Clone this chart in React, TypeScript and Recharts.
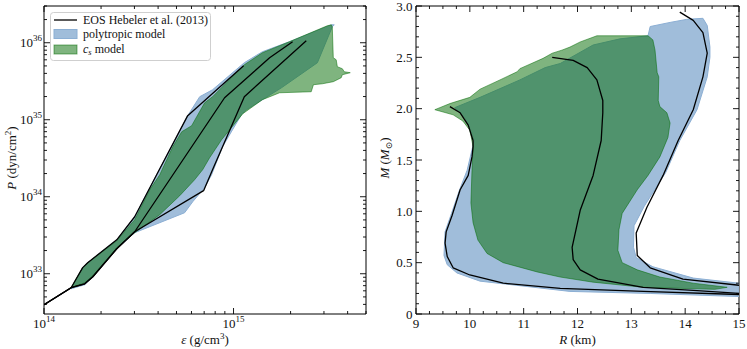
import React from 'react';
import { ComposedChart, Scatter, XAxis, YAxis, ReferenceArea } from 'recharts';

const FONT = '"Liberation Serif", "DejaVu Serif", serif';
const INK = '#111';
const BLUE = '#a0bdda';
const BLUE_EDGE = '#8cafd4';
const GREEN = '#006900';

// ---- left panel: P(ε), values as [ε (g/cm³), P (dyn/cm²)] ----
const hebelerSoftEpsP = [
  [1.0e14, 3.96e32], [1.39e14, 6.58e32], [1.64e14, 7.41e32], [1.81e14, 9.14e32],
  [2.42e14, 2.11e33], [3.01e14, 3.51e33], [6.95e14, 1.2e34], [7.75e14, 2.24e34],
  [1.14e15, 1.99e35], [2.42e15, 1.06e36],
];
const hebelerInterEpsP = [
  [1.0e14, 3.96e32], [1.39e14, 6.58e32], [1.64e14, 7.41e32], [1.81e14, 9.14e32],
  [2.42e14, 2.11e33], [3.01e14, 3.51e33], [8.97e14, 1.93e35], [1.55e15, 6.39e35],
  [2.05e15, 1.03e36],
];
const hebelerStiffEpsP = [
  [1.0e14, 3.96e32], [1.39e14, 6.58e32], [1.6e14, 1.2e33], [1.7e14, 1.39e33],
  [2.42e14, 2.76e33], [3.01e14, 5.5e33], [3.93e14, 1.93e34], [5.73e14, 1.13e35],
  [1.13e15, 5.03e35],
];
const polytropicEpsP = [
  [1.39e14, 6.38e32], [1.6e14, 1.2e33], [1.7e14, 1.39e33], [2.42e14, 2.76e33],
  [3.01e14, 5.5e33], [3.93e14, 1.93e34], [5.73e14, 1.13e35], [6.63e14, 1.99e35],
  [7.75e14, 2.45e35], [1.14e15, 5.5e35], [1.42e15, 7.64e35], [1.97e15, 1.03e36],
  [3.28e15, 1.71e36], [3.4e15, 1.71e36], [3.32e15, 1.61e36], [2.77e15, 5.5e35],
  [1.79e15, 2.6e35], [1.17e15, 1.35e35], [1.1e15, 1.16e35], [8.75e14, 4.46e34],
  [7.66e14, 1.93e34], [7.04e14, 1.31e34], [6.09e14, 8.61e33], [5.52e14, 6.2e33],
  [3.01e14, 3.41e33], [2.42e14, 2.11e33], [1.81e14, 9.14e32], [1.64e14, 7.2e32],
];
const csModelEpsP = [
  [1.39e14, 6.58e32], [1.6e14, 1.2e33], [1.7e14, 1.39e33], [2.42e14, 2.68e33],
  [3.01e14, 5.03e33], [3.61e14, 1.23e34], [4.08e14, 1.93e34], [4.78e14, 4.46e34],
  [5.33e14, 6.99e34], [6.01e14, 8.36e34], [7.04e14, 1.66e35], [7.75e14, 1.99e35],
  [1.14e15, 5.18e35], [1.42e15, 7.42e35], [1.97e15, 1.03e36], [3.12e15, 1.66e36],
  [3.28e15, 1.71e36], [3.32e15, 1.61e36], [3.36e15, 6.39e35], [3.48e15, 6.01e35],
  [3.53e15, 4.88e35], [3.75e15, 4.6e35], [3.84e15, 4.2e35], [4.13e15, 4.08e35],
  [3.75e15, 3.84e35], [3.7e15, 3.51e35], [3.36e15, 3.12e35], [2.94e15, 2.93e35],
  [2.64e15, 2.85e35], [2.57e15, 2.31e35], [1.75e15, 2.24e35], [1.42e15, 1.82e35],
  [1.12e15, 1.2e35], [8.65e14, 5.5e34], [7.48e14, 3.21e34], [6.87e14, 2.24e34],
  [6.23e14, 1.66e34], [5.2e14, 1.03e34], [4.08e14, 5.84e33], [3.01e14, 3.41e33],
  [2.42e14, 2.18e33], [1.81e14, 9.42e32], [1.64e14, 7.64e32],
];

// ---- right panel: M(R), values as [R (km), M (M_sun)] ----
const hebelerSoftRM = [
  [9.63, 2.02], [9.82, 1.96], [9.97, 1.84], [10.06, 1.69], [10.06, 1.63], [10.04, 1.53],
  [9.97, 1.35], [9.82, 1.21], [9.67, 0.96], [9.56, 0.8], [9.54, 0.69], [9.58, 0.56],
  [9.69, 0.45], [10.0, 0.38], [10.62, 0.3], [11.68, 0.25], [13.22, 0.22], [15.0, 0.19],
];
const hebelerInterRM = [
  [11.53, 2.5], [11.92, 2.47], [12.18, 2.4], [12.36, 2.28], [12.47, 2.08], [12.47, 1.96],
  [12.44, 1.69], [12.29, 1.35], [12.05, 1.01], [11.9, 0.65], [11.92, 0.53], [12.05, 0.43],
  [12.38, 0.34], [13.22, 0.26], [14.15, 0.23], [15.0, 0.2],
];
const hebelerStiffRM = [
  [13.9, 2.94], [14.15, 2.86], [14.33, 2.74], [14.41, 2.54], [14.33, 2.31], [14.15, 1.99],
  [13.87, 1.69], [13.59, 1.35], [13.29, 1.04], [13.09, 0.79], [13.11, 0.57], [13.35, 0.45],
  [13.96, 0.34], [15.0, 0.28],
];
const polytropicRM = [
  [9.72, 2.01], [10.19, 2.11], [10.93, 2.28], [11.4, 2.4], [11.68, 2.44], [12.29, 2.62],
  [12.79, 2.68], [13.31, 2.71], [13.35, 2.8], [13.72, 2.84], [14.03, 2.87], [14.33, 2.88],
  [14.41, 2.81], [14.46, 2.6], [14.46, 2.5], [14.41, 2.31], [14.22, 1.99], [13.9, 1.69],
  [13.64, 1.38], [13.24, 1.05], [13.05, 0.86], [13.04, 0.65], [13.09, 0.55], [13.4, 0.46],
  [14.15, 0.35], [15.0, 0.3], [15.0, 0.17], [13.35, 0.2], [11.86, 0.22], [10.19, 0.32],
  [9.76, 0.4], [9.58, 0.48], [9.52, 0.57], [9.53, 0.69], [9.54, 0.8], [9.66, 0.98],
  [9.81, 1.21], [9.95, 1.4], [10.04, 1.6], [10.08, 1.69], [10.02, 1.79], [9.91, 1.91],
];
const csModelRM = [
  [9.35, 1.99], [9.63, 2.05], [10.0, 2.11], [10.19, 2.19], [10.56, 2.28], [10.88, 2.36],
  [10.93, 2.39], [11.36, 2.49], [11.53, 2.54], [11.71, 2.57], [11.86, 2.6], [12.05, 2.65],
  [12.36, 2.71], [12.79, 2.71], [13.31, 2.71], [13.4, 2.67], [13.44, 2.57], [13.48, 2.35],
  [13.51, 2.31], [13.5, 2.08], [13.53, 2.02], [13.66, 1.96], [13.72, 1.86], [13.68, 1.72],
  [13.53, 1.53], [13.31, 1.35], [13.11, 1.21], [12.83, 0.98], [12.77, 0.82], [12.75, 0.62],
  [12.83, 0.5], [13.11, 0.43], [13.53, 0.36], [14.15, 0.3], [14.78, 0.26], [14.55, 0.24],
  [13.22, 0.26], [12.29, 0.31], [11.68, 0.36], [11.25, 0.41], [10.62, 0.5], [10.32, 0.59],
  [10.15, 0.72], [10.06, 0.89], [10.02, 1.08], [10.04, 1.4], [10.06, 1.63], [10.0, 1.79],
  [9.87, 1.88], [9.69, 1.94],
];

// ---- ticks ----
const epsTicks = [1, 2, 3, 4, 5, 6, 7, 8, 9].map((m) => m * 1e14).concat([1, 2, 3, 4, 5].map((m) => m * 1e15));
const pTicks = [4, 5, 6, 7, 8, 9].map((m) => m * 1e32)
  .concat([1, 2, 3, 4, 5, 6, 7, 8, 9].map((m) => m * 1e33))
  .concat([1, 2, 3, 4, 5, 6, 7, 8, 9].map((m) => m * 1e34))
  .concat([1, 2, 3, 4, 5, 6, 7, 8, 9].map((m) => m * 1e35))
  .concat([1, 2, 3].map((m) => m * 1e36));
const rTicks = Array.from({ length: 25 }, (_, i) => 9 + i * 0.25);
const mTicks = Array.from({ length: 31 }, (_, i) => i / 10);
const mLabels: Record<string, string> = { '0': '0', '0.5': '0.5', '1': '1.0', '1.5': '1.5', '2': '2.0', '2.5': '2.5', '3': '3.0' };

const pts = (a: number[][]) => a.map(([x, y]) => ({ x, y }));
const isPow10 = (v: number) => Math.abs(Math.log10(v) - Math.round(Math.log10(v))) < 1e-6;
const isHalf = (v: number) => Math.abs(v * 2 - Math.round(v * 2)) < 1e-6;
const isInt = (v: number) => Math.abs(v - Math.round(v)) < 1e-6;
const powLabel = (v: number) => (
  <>
    <tspan>10</tspan>
    <tspan dy={-6} fontSize={9}>{Math.round(Math.log10(v))}</tspan>
  </>
);

const NoDot = () => <g />;

const fillLine = (fill: string, fillOpacity: number, stroke: string, strokeOpacity: number) => (p: any) => (
  <polygon
    points={p.points.map((q: any) => `${q.x},${q.y}`).join(' ')}
    fill={fill}
    fillOpacity={fillOpacity}
    stroke={stroke}
    strokeOpacity={strokeOpacity}
    strokeWidth={1}
    strokeLinejoin="round"
  />
);
const blackLine = (p: any) => (
  <polyline
    points={p.points.map((q: any) => `${q.x},${q.y}`).join(' ')}
    fill="none"
    stroke="#000"
    strokeWidth={1.3}
    strokeLinejoin="round"
  />
);

// inward ticks on both sides, labels only on major ticks
const bottomTick = (major: (v: number) => boolean, text: (v: number) => React.ReactNode, span: number) => (p: any) => {
  const { x, y } = p;
  const v = p.payload.value;
  const m = major(v);
  const len = m ? 6 : 3;
  return (
    <g>
      <line x1={x} x2={x} y1={y} y2={y - len} stroke="#000" strokeWidth={0.9} />
      <line x1={x} x2={x} y1={y - span} y2={y - span + len} stroke="#000" strokeWidth={0.9} />
      {m && (
        <text x={x} y={y + 14} textAnchor="middle" fontFamily={FONT} fontSize={13} fill={INK}>
          {text(v)}
        </text>
      )}
    </g>
  );
};
const leftTick = (major: (v: number) => boolean, text: (v: number) => React.ReactNode, span: number, gap: number) => (p: any) => {
  const { x, y } = p;
  const v = p.payload.value;
  const m = major(v);
  const len = m ? 6 : 3;
  return (
    <g>
      <line x1={x} x2={x + len} y1={y} y2={y} stroke="#000" strokeWidth={0.9} />
      <line x1={x + span} x2={x + span - len} y1={y} y2={y} stroke="#000" strokeWidth={0.9} />
      {m && (
        <text x={x - gap} y={y + 4.5} textAnchor="end" fontFamily={FONT} fontSize={13} fill={INK}>
          {text(v)}
        </text>
      )}
    </g>
  );
};

const xTitle = (content: React.ReactNode) => (p: any) => {
  const vb = p.viewBox;
  return (
    <text x={vb.x + vb.width / 2} y={vb.y + 30} textAnchor="middle" fontFamily={FONT} fontSize={13} fill={INK}>
      {content}
    </text>
  );
};
const yTitle = (content: React.ReactNode, px: number) => (p: any) => {
  const vb = p.viewBox;
  const cx = vb.x + px;
  const cy = vb.y + vb.height / 2 - 2;
  return (
    <text x={cx} y={cy} transform={`rotate(-90 ${cx} ${cy})`} textAnchor="middle" fontFamily={FONT} fontSize={13} fill={INK}>
      {content}
    </text>
  );
};

const Legend = () => (
  <svg width={372} height={80} style={{ position: 'absolute', left: 0, top: 0, pointerEvents: 'none' }}>
    <rect x={50.5} y={12.5} width={160} height={48} rx={3} fill="#fff" fillOpacity={0.8} stroke="#cfcfcf" />
    <line x1={54} x2={77} y1={20} y2={20} stroke="#000" strokeWidth={1.3} />
    <text x={83} y={24} fontFamily={FONT} fontSize={12} fill={INK}>EOS Hebeler et al. (2013)</text>
    <rect x={54} y={29.5} width={23} height={9} fill={BLUE} stroke={BLUE_EDGE} />
    <text x={83} y={38} fontFamily={FONT} fontSize={12} fill={INK}>polytropic model</text>
    <rect x={54} y={45} width={23} height={9} fill={GREEN} fillOpacity={0.5} stroke={GREEN} strokeOpacity={0.5} />
    <text x={83} y={53} fontFamily={FONT} fontSize={12} fill={INK}>
      <tspan fontStyle="italic">c</tspan>
      <tspan dy={2} fontSize={8.5} fontStyle="italic">s</tspan>
      <tspan dy={-2}> model</tspan>
    </text>
  </svg>
);

export default function App() {
  return (
    <div style={{ position: 'absolute', left: 0, top: 0, width: 747, height: 349, background: '#fff' }}>
      <div style={{ position: 'absolute', left: 0, top: 0 }}>
        <ComposedChart width={372} height={349} margin={{ top: 6, right: 6, bottom: 0, left: 0 }}>
          <XAxis
            type="number"
            dataKey="x"
            scale="log"
            domain={[1e14, 5e15]}
            allowDataOverflow
            ticks={epsTicks}
            interval={0}
            tick={bottomTick(isPow10, powLabel, 308)}
            tickLine={false}
            axisLine={false}
            tickSize={0}
            tickMargin={0}
            height={35}
            label={xTitle(
              <>
                <tspan fontStyle="italic">ε</tspan>
                <tspan> (g/cm</tspan>
                <tspan dy={-5} fontSize={9}>3</tspan>
                <tspan dy={5}>)</tspan>
              </>
            )}
          />
          <YAxis
            type="number"
            dataKey="y"
            scale="log"
            domain={[3e32, 3e36]}
            allowDataOverflow
            ticks={pTicks}
            interval={0}
            tick={leftTick(isPow10, powLabel, 322, 2)}
            tickLine={false}
            axisLine={false}
            tickSize={0}
            tickMargin={0}
            width={44}
            label={yTitle(
              <>
                <tspan fontStyle="italic">P</tspan>
                <tspan> (dyn/cm</tspan>
                <tspan dy={-5} fontSize={9}>2</tspan>
                <tspan dy={5}>)</tspan>
              </>,
              16
            )}
          />
          <Scatter data={pts(polytropicEpsP)} line={fillLine(BLUE, 1, BLUE_EDGE, 1)} lineType="joint" shape={NoDot} isAnimationActive={false} />
          <Scatter data={pts(csModelEpsP)} line={fillLine(GREEN, 0.5, GREEN, 0.5)} lineType="joint" shape={NoDot} isAnimationActive={false} />
          <Scatter data={pts(hebelerSoftEpsP)} line={blackLine} lineType="joint" shape={NoDot} isAnimationActive={false} />
          <Scatter data={pts(hebelerInterEpsP)} line={blackLine} lineType="joint" shape={NoDot} isAnimationActive={false} />
          <Scatter data={pts(hebelerStiffEpsP)} line={blackLine} lineType="joint" shape={NoDot} isAnimationActive={false} />
          <ReferenceArea x1={1e14} x2={5e15} y1={3e32} y2={3e36} fill="none" stroke="#000" strokeWidth={1} />
        </ComposedChart>
        <Legend />
      </div>
      <div style={{ position: 'absolute', left: 370, top: 0 }}>
        <ComposedChart width={377} height={349} margin={{ top: 6, right: 8, bottom: 0, left: 0 }}>
          <XAxis
            type="number"
            dataKey="x"
            domain={[9, 15]}
            allowDataOverflow
            ticks={rTicks}
            interval={0}
            tick={bottomTick(isInt, (v) => String(Math.round(v)), 308)}
            tickLine={false}
            axisLine={false}
            tickSize={0}
            tickMargin={0}
            height={35}
            label={xTitle(
              <>
                <tspan fontStyle="italic">R</tspan>
                <tspan> (km)</tspan>
              </>
            )}
          />
          <YAxis
            type="number"
            dataKey="y"
            domain={[0, 3]}
            allowDataOverflow
            ticks={mTicks}
            interval={0}
            tick={leftTick(isHalf, (v) => mLabels[String(Math.round(v * 2) / 2)], 323, 3.5)}
            tickLine={false}
            axisLine={false}
            tickSize={0}
            tickMargin={0}
            width={46}
            label={yTitle(
              <>
                <tspan fontStyle="italic">M</tspan>
                <tspan> (</tspan>
                <tspan fontStyle="italic">M</tspan>
                <tspan dy={3} fontSize={9}>⊙</tspan>
                <tspan dy={-3}>)</tspan>
              </>,
              19
            )}
          />
          <Scatter data={pts(polytropicRM)} line={fillLine(BLUE, 1, BLUE_EDGE, 1)} lineType="joint" shape={NoDot} isAnimationActive={false} />
          <Scatter data={pts(csModelRM)} line={fillLine(GREEN, 0.5, GREEN, 0.5)} lineType="joint" shape={NoDot} isAnimationActive={false} />
          <Scatter data={pts(hebelerSoftRM)} line={blackLine} lineType="joint" shape={NoDot} isAnimationActive={false} />
          <Scatter data={pts(hebelerInterRM)} line={blackLine} lineType="joint" shape={NoDot} isAnimationActive={false} />
          <Scatter data={pts(hebelerStiffRM)} line={blackLine} lineType="joint" shape={NoDot} isAnimationActive={false} />
          <ReferenceArea x1={9} x2={15} y1={0} y2={3} fill="none" stroke="#000" strokeWidth={1} />
        </ComposedChart>
      </div>
    </div>
  );
}
